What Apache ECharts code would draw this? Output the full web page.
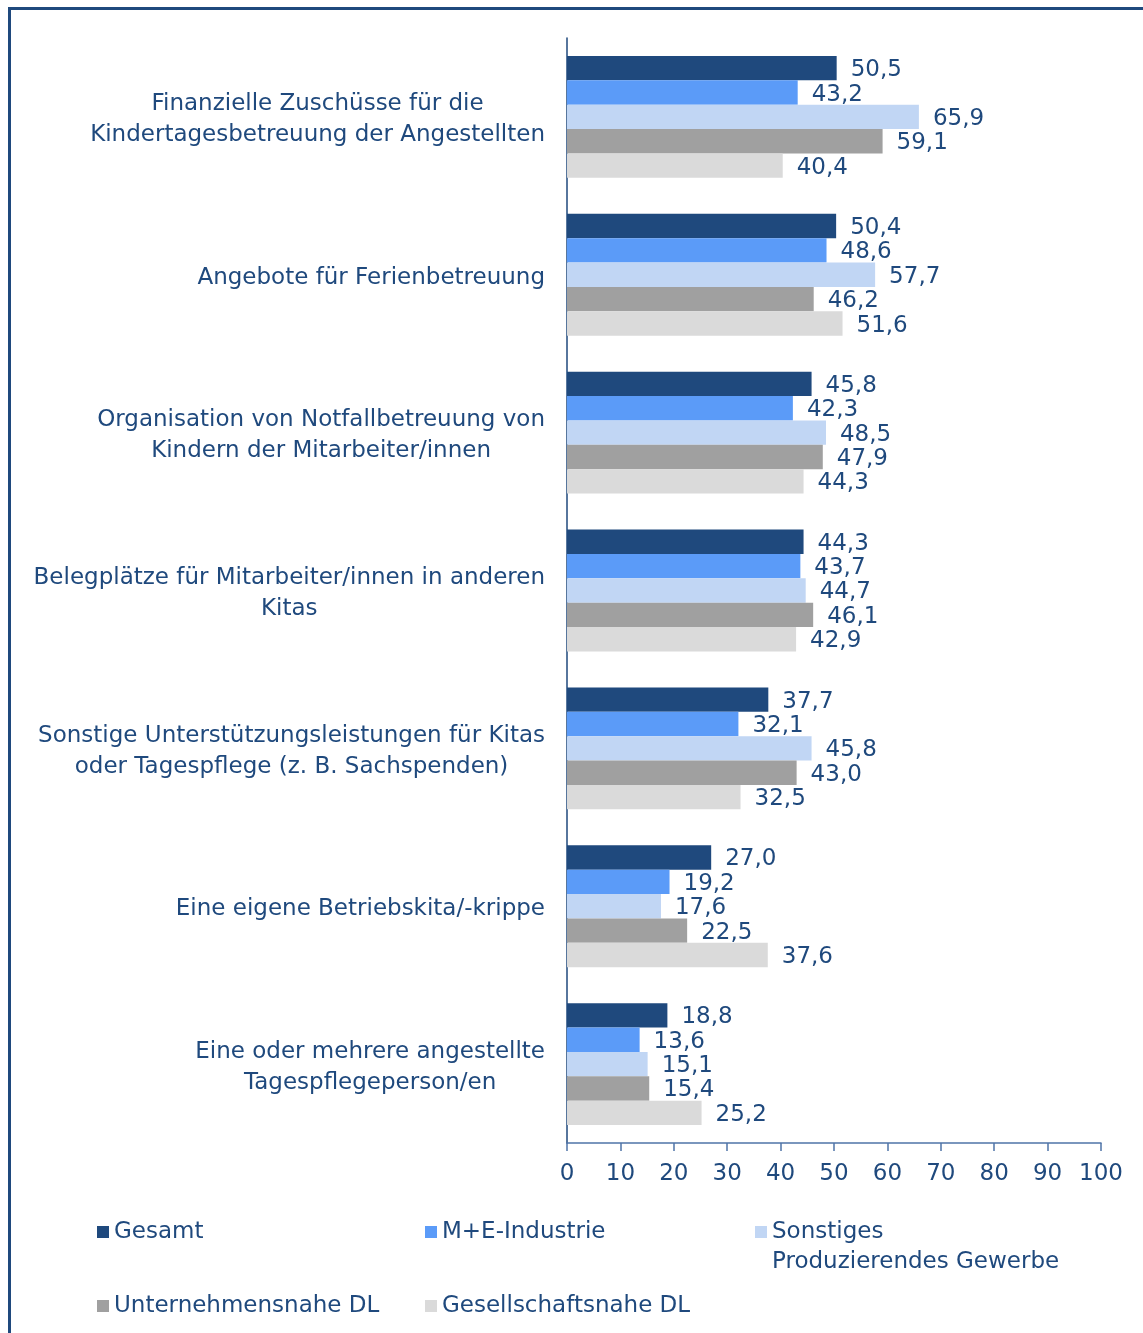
<!DOCTYPE html>
<html>
<head>
<meta charset="utf-8">
<script src="https://cdn.jsdelivr.net/npm/echarts@6/dist/echarts.min.js"></script>
<style>
html,body{margin:0;padding:0;background:#fff;}
#chart{width:1143px;height:1333px;}
</style>
</head>
<body>
<div id="chart"></div>
<script>
var categories = [
  "Finanzielle Zuschüsse für die\nKindertagesbetreuung der Angestellten",
  "Angebote für Ferienbetreuung",
  "Organisation von Notfallbetreuung von\nKindern der Mitarbeiter/innen",
  "Belegplätze für Mitarbeiter/innen in anderen\nKitas",
  "Sonstige Unterstützungsleistungen für Kitas\noder Tagespflege (z. B. Sachspenden)",
  "Eine eigene Betriebskita/-krippe",
  "Eine oder mehrere angestellte\nTagespflegeperson/en"
];
var seriesNames = ["Gesamt", "M+E-Industrie", "Sonstiges Produzierendes Gewerbe", "Unternehmensnahe DL", "Gesellschaftsnahe DL"];
var gesamt = [50.5, 50.4, 45.8, 44.3, 37.7, 27.0, 18.8];
var meIndustrie = [43.2, 48.6, 42.3, 43.7, 32.1, 19.2, 13.6];
var sonstigesProd = [65.9, 57.7, 48.5, 44.7, 45.8, 17.6, 15.1];
var unternehmensnah = [59.1, 46.2, 47.9, 46.1, 43.0, 22.5, 15.4];
var gesellschaftsnah = [40.4, 51.6, 44.3, 42.9, 32.5, 37.6, 25.2];
var xTicks = [0, 10, 20, 30, 40, 50, 60, 70, 80, 90, 100];

var values = [gesamt, meIndustrie, sonstigesProd, unternehmensnah, gesellschaftsnah];
var colors = ["#1F497D", "#5B9BF8", "#C1D6F4", "#A0A0A0", "#DADADA"];
var textColor = "#1F497D";
var FONT = "DejaVu Sans";
var FS = 23;

var chart = echarts.init(document.getElementById('chart'), null, {renderer: 'canvas'});

var series = values.map(function (arr, i) {
  return {
    name: seriesNames[i],
    type: 'bar',
    data: arr,
    barGap: '0%',
    barCategoryGap: '22.8%',
    itemStyle: {color: colors[i]},
    label: {
      show: true,
      position: 'right',
      distance: 14,
      offset: [0, 2],
      color: textColor,
      fontFamily: FONT,
      fontSize: FS,
      formatter: function (p) { return p.value.toFixed(1).replace('.', ','); }
    },
    emphasis: {disabled: true}
  };
});

var legendDisplay = {
  "Gesamt": "Gesamt",
  "M+E-Industrie": "M+E-Industrie",
  "Sonstiges Produzierendes Gewerbe": "\nSonstiges\nProduzierendes Gewerbe",
  "Unternehmensnahe DL": "Unternehmensnahe DL",
  "Gesellschaftsnahe DL": "Gesellschaftsnahe DL"
};
var legendPos = [[97, 1232], [425, 1232], [755, 1232], [97, 1306], [425, 1306]];
var legends = seriesNames.map(function (n, i) {
  var multi = legendDisplay[n].indexOf('\n') >= 0;
  return {
    data: [n],
    left: legendPos[i][0],
    top: legendPos[i][1] - (multi ? 45 : 15),
    itemWidth: 12,
    itemHeight: 12,
    icon: 'rect',
    padding: 0,
    textStyle: {color: textColor, fontFamily: FONT, fontSize: FS, lineHeight: 30},
    formatter: function (name) { return legendDisplay[name]; },
    selectedMode: false
  };
});

var option = {
  animation: false,
  backgroundColor: '#fff',
  grid: {left: 567, right: 42, top: 38, bottom: 190, containLabel: false},
  xAxis: {
    type: 'value',
    min: 0, max: 100, interval: 10,
    axisLine: {show: true, lineStyle: {color: '#4F74A8', width: 1.5}},
    axisTick: {show: true, length: 8, lineStyle: {color: '#4F74A8', width: 1.5}},
    splitLine: {show: false},
    axisLabel: {
      color: textColor, fontFamily: FONT, fontSize: FS, margin: 20,
      formatter: function (v) { return xTicks.indexOf(v) >= 0 ? String(v) : ''; }
    }
  },
  yAxis: {
    type: 'category',
    data: categories,
    inverse: true,
    axisLine: {show: true, lineStyle: {color: '#1F497D', width: 1.5}},
    axisTick: {show: false},
    axisLabel: {
      margin: 22,
      align: 'right',
      color: textColor,
      fontFamily: FONT,
      fontSize: FS,
      lineHeight: 31,
      formatter: function (v) {
        return v.split('\n').map(function (l) { return '{c|' + l + '}'; }).join('\n');
      },
      rich: {c: {align: 'center', color: textColor, fontFamily: FONT, fontSize: FS, lineHeight: 31, padding: [6, 0, 0, 0]}}
    }
  },
  legend: legends,
  series: series,
  graphic: [{
    type: 'rect',
    shape: {x: 9.5, y: 8.5, width: 1300, height: 1500},
    style: {fill: null, stroke: '#1F497D', lineWidth: 3},
    silent: true
  }]
};
chart.setOption(option);
</script>
</body>
</html>
